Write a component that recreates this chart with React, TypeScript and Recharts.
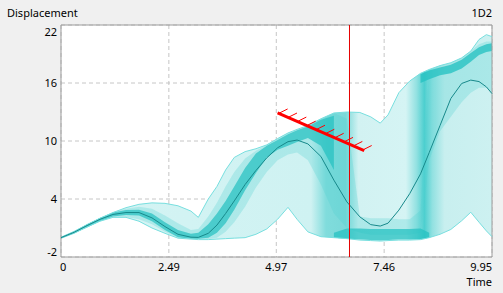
import React from 'react';
import {
  ComposedChart, Area, Line, XAxis, YAxis, CartesianGrid, ReferenceLine, ReferenceArea,
} from 'recharts';

// sample times (non uniform, denser around the kinks)
const time = [0, 0.3, 0.6, 0.9, 1.2, 1.5, 1.8, 2.1, 2.4, 2.7, 3.0, 3.17, 3.4, 3.6, 3.8, 4.0, 4.25, 4.5, 4.75, 5.0,
  5.24, 5.45, 5.7, 6.0, 6.3, 6.6, 6.9, 7.15, 7.37, 7.55, 7.8, 8.05, 8.3, 8.5, 8.75, 9.0, 9.25, 9.46, 9.65, 9.82, 9.95];

const median = [0, 0.55, 1.25, 1.9, 2.4, 2.6, 2.6, 2.05, 1.15, 0.35, 0.05, 0.03, 0.45, 1.3, 2.5, 3.8, 5.5, 6.95, 8.25, 9.3,
  9.93, 10.1, 9.7, 8.4, 5.95, 3.7, 2.15, 1.35, 1.2, 1.5, 2.85, 4.55, 6.6, 8.8, 11.6, 14.4, 15.95, 16.3, 16.15, 15.6, 14.9];

const upper = [0, 0.6, 1.35, 2.0, 2.6, 3.1, 3.45, 3.6, 3.55, 3.3, 2.75, 2.1, 4.0, 5.3, 7.0, 8.3, 8.9, 9.2, 9.6, 10.25,
  10.83, 11.2, 11.6, 12.3, 12.9, 13.0, 12.95, 12.5, 11.85, 12.7, 15.0, 16.2, 17.0, 17.4, 17.8, 18.1, 18.6, 19.3, 20.5, 21.0, 20.8];

const lower = [0, 0.5, 1.1, 1.7, 2.1, 2.1, 1.7, 1.0, 0.45, -0.05, -0.15, -0.2, -0.2, -0.15, -0.1, -0.05, 0, 0.35, 0.9, 1.9,
  3.14, 1.9, 0.6, 0.1, 0, -0.1, -0.25, -0.3, -0.35, -0.3, -0.25, -0.25, -0.2, 0, 0.35, 0.85, 1.75, 2.63, 1.6, 0.7, 0.1];

// medium density band
const midBand = [[0, 0], [0.45, 0.65], [1.1, 1.4], [1.7, 2.0], [2.1, 2.65], [2.15, 3.0], [1.9, 3.2], [1.4, 3.0], [0.6, 2.3],
  [0, 1.5], [-0.1, 0.8], [-0.15, 0.9], [-0.15, 2.2], [0, 3.6], [0.6, 5.3], [1.6, 6.8], [3.2, 8.2], [5.2, 9.0],
  [6.8, 9.6], [8.0, 10.25], [8.6, 10.83], [8.8, 11.2], [8.0, 11.6], [5.5, 12.3], [2.5, 12.9], [1.0, 12.3], [0.5, 2.2],
  [0.3, 2.0], [0.3, 2.0], [0.3, 2.0], [0.3, 1.9], [0.3, 1.9], [0.5, 2.8], [8.0, 17.4], [11.0, 17.8], [12.5, 18.1],
  [14.0, 18.6], [15.0, 19.3], [15.5, 20.0], [15.5, 20.3], [15.0, 20.3]];

// dense ridge
const coreBand = [[-0.1, 0.1], [0.4, 0.7], [1.05, 1.4], [1.7, 2.05], [2.2, 2.6], [2.35, 2.85], [2.3, 2.9], [1.7, 2.5],
  [0.8, 1.6], [0.05, 0.8], [-0.1, 0.4], [-0.1, 0.5], [0, 1.4], [0.5, 2.5], [1.5, 3.8], [2.9, 5.3], [4.9, 7.2],
  [6.7, 8.7], [8.3, 9.5], [9.1, 10.1], [9.5, 10.7], [9.9, 11.1], [10.3, 11.5], [9.5, 12.2], [7.0, 12.6],
  null, null, null, null, null, null, null, null, null, null, null, null, null, null, null, null];

const floorBand = [null, null, null, null, null, null, null, null, null, null, null, null, null, null, null, null, null,
  null, null, null, null, null, null, null, [-0.0, 0.5], [-0.1, 0.95], [-0.2, 0.95], [-0.25, 0.9], [-0.3, 0.9], [-0.25, 0.9],
  [-0.2, 0.9], [-0.2, 0.9], [-0.15, 0.95], [0, 0.5], null, null, null, null, null, null, null];

const topBand = [null, null, null, null, null, null, null, null, null, null, null, null, null, null, null, null, null,
  null, null, null, null, null, null, null, null, null, null, null, null, null, null, null, [16.0, 16.9], [16.4, 17.3],
  [16.8, 17.6], [17.0, 17.9], [17.5, 18.4], [18.2, 19.1], [18.9, 19.7], [19.2, 20.0], [19.3, 20.1]];

const xTicks = [0, 2.49, 4.97, 7.46, 9.95];
const yTicks = [-2, 4, 10, 16, 22];
const cursorT = 6.66;
const arrowStart = { x: 5.0, y: 12.9 };
const arrowEnd = { x: 7.0, y: 9.0 };
const hatchCount = 10;

const data = time.map((t, i) => ({
  t,
  env: [lower[i], upper[i]],
  mid: midBand[i],
  core: coreBand[i],
  floor: floorBand[i],
  top: topBand[i],
  median: median[i],
  upper: upper[i],
  lower: lower[i],
}));

const font = '"Noto Sans", sans-serif';

const XTick = (props: any) => {
  const { x, y, payload } = props;
  const v = payload.value;
  let anchor = 'middle';
  let dx = 0;
  if (v === xTicks[0]) { anchor = 'start'; dx = -1; }
  if (v === xTicks[xTicks.length - 1]) { anchor = 'end'; dx = 0; }
  return (
    <text x={x + dx} y={y} dy="0.71em" textAnchor={anchor} fontSize={11} fontFamily={font} fill="#000">{v}</text>
  );
};

const YTick = (props: any) => {
  const { x, y, payload } = props;
  const v = payload.value;
  let dy = 4;
  if (v === yTicks[yTicks.length - 1]) dy = 11;
  if (v === yTicks[0]) dy = -1;
  return (
    <text x={x} y={y + dy} textAnchor="end" fontSize={11} fontFamily={font} fill="#000">{v}</text>
  );
};

// thick red segment with little hatch marks
const HatchedLine = (props: any) => {
  const { x1, y1, x2, y2 } = props;
  if (x1 == null) return null;
  const dx = x2 - x1;
  const dy = y2 - y1;
  const len = Math.sqrt(dx * dx + dy * dy);
  const ux = dx / len;
  const uy = dy / len;
  const ang = -50 * Math.PI / 180;
  const hx = ux * Math.cos(ang) - uy * Math.sin(ang);
  const hy = ux * Math.sin(ang) + uy * Math.cos(ang);
  const marks = [];
  for (let i = 0; i < hatchCount; i++) {
    const px = x1 + dx * (i / (hatchCount - 1)) * 0.97 + 2;
    const py = y1 + dy * (i / (hatchCount - 1)) * 0.97;
    marks.push(
      <line key={i} x1={px} y1={py} x2={px + hx * 9} y2={py + hy * 9} stroke="#ff0000" strokeWidth={1} />,
    );
  }
  return (
    <g>
      <line x1={x1} y1={y1} x2={x2} y2={y2} stroke="#ff0000" strokeWidth={3} />
      {marks}
    </g>
  );
};

export default function App() {
  return (
    <div style={{
      position: 'fixed', left: 0, top: 0, width: 503, height: 293, background: '#f0f0f0', fontFamily: font,
    }}
    >
      <div style={{ position: 'absolute', left: 7, top: 7, fontSize: 11, lineHeight: '11px', color: '#000' }}>Displacement</div>
      <div style={{ position: 'absolute', right: 11, top: 7, fontSize: 11, lineHeight: '11px', color: '#000' }}>1D2</div>
      <div style={{ position: 'absolute', right: 11, top: 276, fontSize: 11, lineHeight: '11px', color: '#000' }}>Time</div>
      <ComposedChart
        width={503}
        height={293}
        data={data}
        margin={{
          top: 25, right: 11, left: 0, bottom: 0,
        }}
      >
        <defs>
          <linearGradient id="envFill" x1="0" y1="0" x2="1" y2="0">
            <stop offset="0" stopColor="#d5f4f4" />
            <stop offset="0.58" stopColor="#cff2f2" />
            <stop offset="0.615" stopColor="#80dcdc" />
            <stop offset="0.66" stopColor="#7ad9d9" />
            <stop offset="0.69" stopColor="#d2f2f2" />
            <stop offset="0.8" stopColor="#d5f4f4" />
            <stop offset="0.825" stopColor="#92e1e1" />
            <stop offset="0.843" stopColor="#4ccfcf" />
            <stop offset="0.862" stopColor="#92e1e1" />
            <stop offset="0.89" stopColor="#c8efef" />
            <stop offset="1" stopColor="#cdf1f1" />
          </linearGradient>
        </defs>
        <CartesianGrid stroke="#c6c6c6" strokeDasharray="4 3" fill="#ffffff" />
        <XAxis
          type="number"
          dataKey="t"
          domain={[0, 9.95]}
          ticks={xTicks}
          height={36}
          axisLine={false}
          tickLine={false}
          tickSize={4}
          tickMargin={2}
          tick={<XTick />}
          interval={0}
        />
        <YAxis
          type="number"
          domain={[-2, 22]}
          ticks={yTicks}
          width={61}
          axisLine={false}
          tickLine={false}
          tickSize={2}
          tickMargin={2}
          tick={<YTick />}
          interval={0}
        />
        <Area type="linear" dataKey="env" stroke="none" fill="url(#envFill)" fillOpacity={1} isAnimationActive={false} />
        <Area type="linear" dataKey="mid" stroke="none" fill="#4fcfcf" fillOpacity={0.28} isAnimationActive={false} />
        <Area type="linear" dataKey="core" stroke="none" fill="#25c1c1" fillOpacity={0.72} isAnimationActive={false} />
        <Area type="linear" dataKey="floor" stroke="none" fill="#25c1c1" fillOpacity={0.75} isAnimationActive={false} />
        <Area type="linear" dataKey="top" stroke="none" fill="#25c1c1" fillOpacity={0.78} isAnimationActive={false} />
        <Line type="linear" dataKey="upper" stroke="#78dfdf" strokeWidth={1} dot={false} isAnimationActive={false} />
        <Line type="linear" dataKey="lower" stroke="#78dfdf" strokeWidth={1} dot={false} isAnimationActive={false} />
        <Line type="linear" dataKey="median" stroke="#17898b" strokeWidth={1} dot={false} isAnimationActive={false} />
        <ReferenceArea x1={0} x2={9.95} y1={-2} y2={22} fill="none" stroke="#9c9c9c" strokeWidth={1} ifOverflow="visible" />
        <ReferenceLine x={cursorT} stroke="#e60000" strokeWidth={1} />
        <ReferenceLine segment={[arrowStart, arrowEnd]} shape={<HatchedLine />} ifOverflow="visible" />
      </ComposedChart>
    </div>
  );
}
